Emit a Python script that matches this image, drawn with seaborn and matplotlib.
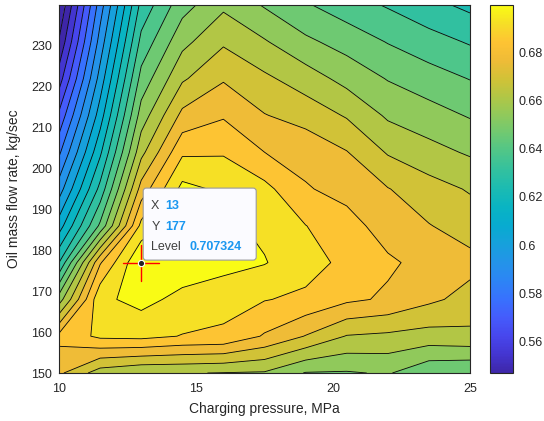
import numpy as np
import matplotlib
matplotlib.use("Agg")
import matplotlib.pyplot as plt
import seaborn as sns
from matplotlib.colors import LinearSegmentedColormap, Normalize
from matplotlib.patches import FancyBboxPatch
from matplotlib.transforms import IdentityTransform
import matplotlib.cm as cm

# ---------------- data ----------------
charging_pressure = [10, 11.5, 13, 14.5, 16, 17.5, 19, 20.5, 22, 23.5, 25]      # MPa
oil_flow = [150, 159, 168, 177, 186, 195, 204, 213, 222, 231, 240]             # kg/sec

row_150 = [0.6783, 0.6653, 0.6619, 0.6619, 0.6612, 0.6607, 0.6534, 0.6531, 0.6546, 0.6477, 0.6466]
row_159 = [0.6867, 0.6936, 0.6943, 0.6917, 0.6909, 0.6836, 0.6764, 0.6687, 0.6676, 0.6661, 0.6672]
row_168 = [0.6577, 0.6981, 0.7020, 0.6975, 0.6943, 0.6924, 0.6905, 0.6859, 0.6833, 0.6783, 0.6742]
row_177 = [0.6309, 0.6836, 0.707324, 0.7043, 0.7027, 0.7001, 0.6951, 0.6901, 0.6855, 0.6821, 0.6790]
row_186 = [0.6118, 0.6477, 0.6943, 0.7050, 0.7012, 0.6982, 0.6922, 0.6871, 0.6813, 0.6771, 0.6734]
row_195 = [0.5965, 0.6332, 0.6798, 0.7020, 0.6982, 0.6943, 0.6850, 0.6821, 0.6771, 0.6722, 0.6684]
row_204 = [0.5835, 0.6217, 0.6668, 0.6907, 0.6913, 0.6844, 0.6820, 0.6771, 0.6684, 0.6641, 0.6605]
row_213 = [0.5713, 0.6118, 0.6573, 0.6788, 0.6836, 0.6771, 0.6737, 0.6684, 0.6603, 0.6569, 0.6532]
row_222 = [0.5583, 0.6034, 0.6489, 0.6680, 0.6760, 0.6706, 0.6653, 0.6589, 0.6534, 0.6496, 0.6459]
row_231 = [0.5475, 0.5958, 0.6408, 0.6592, 0.6680, 0.6622, 0.6554, 0.6508, 0.6458, 0.6416, 0.6378]
row_240 = [0.5392, 0.5889, 0.6332, 0.6508, 0.6599, 0.6531, 0.6470, 0.6420, 0.6378, 0.6332, 0.6290]

n_levels = 21
x_ticks = [10, 15, 20, 25]
y_ticks = [150, 160, 170, 180, 190, 200, 210, 220, 230]
cbar_ticks = [0.56, 0.58, 0.60, 0.62, 0.64, 0.66, 0.68]
cbar_ticklabels = ["0.56", "0.58", "0.6", "0.62", "0.64", "0.66", "0.68"]
tip_x, tip_y = 13, 177

# ---------------- style ----------------
sns.set_theme(style="white")
plt.rcParams["font.family"] = ["Liberation Sans", "DejaVu Sans"]
TXT = "#262626"

parula_anchors = [
    (0.00, (0.2422, 0.1504, 0.6603)), (0.05, (0.2650, 0.2100, 0.8200)),
    (0.10, (0.2780, 0.2780, 0.9300)), (0.15, (0.2700, 0.3600, 0.9850)),
    (0.20, (0.2200, 0.4450, 0.9950)), (0.25, (0.1750, 0.5200, 0.9600)),
    (0.30, (0.1400, 0.5800, 0.9100)), (0.35, (0.0900, 0.6300, 0.8600)),
    (0.40, (0.0300, 0.6700, 0.8150)), (0.45, (0.0350, 0.7050, 0.7650)),
    (0.50, (0.1050, 0.7320, 0.7000)), (0.55, (0.1950, 0.7550, 0.6250)),
    (0.60, (0.3050, 0.7750, 0.5400)), (0.65, (0.4300, 0.7880, 0.4500)),
    (0.70, (0.5600, 0.7900, 0.3600)), (0.75, (0.6900, 0.7780, 0.2750)),
    (0.80, (0.8200, 0.7600, 0.2150)), (0.85, (0.9350, 0.7350, 0.2150)),
    (0.90, (0.9950, 0.7650, 0.2000)), (0.95, (0.9650, 0.8700, 0.1500)),
    (1.00, (0.9769, 0.9839, 0.0805)),
]
parula = LinearSegmentedColormap.from_list("parula", parula_anchors, N=256)

# ---------------- grid and levels (MATLAB contourf(X,Y,Z,21) style) ----------------
Z = np.array([row_150, row_159, row_168, row_177, row_186, row_195,
              row_204, row_213, row_222, row_231, row_240])
X, Y = np.meshgrid(charging_pressure, oil_flow)
zmin, zmax = Z.min(), Z.max()
levels = np.linspace(zmin, zmax, n_levels + 2)[1:-1]
norm = Normalize(levels[0], levels[-1])
band_edges = np.concatenate([[zmin - 1.0], levels, [zmax + 1.0]])
band_colors = [parula(0.0)] + [parula(norm(v)) for v in levels[:-1]] + [parula(1.0)]

W, H = 544, 421
fig = plt.figure(figsize=(W / 100, H / 100), dpi=100)
fig.patch.set_facecolor("white")
ax = fig.add_axes([59 / W, (H - 373) / H, 411 / W, 368 / H])

ax.contourf(X, Y, Z, levels=band_edges, colors=band_colors, antialiased=True)
ax.contour(X, Y, Z, levels=levels, colors="black", linewidths=0.6)

ax.set_xlim(min(charging_pressure), max(charging_pressure))
ax.set_ylim(min(oil_flow), max(oil_flow))
ax.set_xticks(x_ticks)
ax.set_yticks(y_ticks)
ax.tick_params(direction="in", length=4, width=0.6, top=True, right=True,
               labelsize=9, colors=TXT)
ax.tick_params(axis="x", pad=7.5)
ax.tick_params(axis="y", pad=5)
for s in ax.spines.values():
    s.set_color(TXT)
    s.set_linewidth(0.8)

ax.set_xlabel("Charging pressure, MPa", fontsize=10, color=TXT)
ax.set_ylabel("Oil mass flow rate, kg/sec", fontsize=10, color=TXT)
ax.xaxis.set_label_coords(0.5, (373 - 409) / 368)
ax.yaxis.set_label_coords((14 - 59) / 411, 0.5)
ax.xaxis.label.set_va("center")
ax.yaxis.label.set_va("center")

# ---------------- colorbar ----------------
cax = fig.add_axes([489.5 / W, (H - 373) / H, 23 / W, 368 / H])
sm = cm.ScalarMappable(norm=norm, cmap=parula)
cb = fig.colorbar(sm, cax=cax)
cb.set_ticks(cbar_ticks)
cb.set_ticklabels(cbar_ticklabels)
cax.tick_params(direction="in", length=3.5, width=0.6, labelsize=9, pad=4, colors=TXT)
cb.outline.set_edgecolor(TXT)
cb.outline.set_linewidth(0.8)

# ---------------- data tip ----------------
fig.canvas.draw()
mx, my = ax.transData.transform((tip_x, tip_y))
box = FancyBboxPatch((mx + 2, my + 2.5), 113, 72,
                     boxstyle="round,pad=0,rounding_size=3",
                     transform=IdentityTransform(), facecolor=(0.985, 0.985, 1.0),
                     edgecolor=(0.6, 0.6, 0.62), linewidth=0.8, zorder=10, clip_on=False)
ax.add_patch(box)

ax.plot([tip_x - 0.66, tip_x + 0.66], [tip_y, tip_y], color="#ff0000", lw=1.0, zorder=11)
ax.plot([tip_x, tip_x], [tip_y - 4.4, tip_y + 4.4], color="#ff0000", lw=1.0, zorder=11)
ax.plot([tip_x], [tip_y], marker="o", ms=4.5, mfc="#222222", mec="white", mew=0.8, zorder=12)

LBL = "#404040"
VAL = "#1a97f0"
Zpeak = Z[oil_flow.index(tip_y), charging_pressure.index(tip_x)]
rows = [("X", f"{tip_x}", 53.6, 24), ("Y", f"{tip_y}", 32.6, 24),
        ("Level", f"{Zpeak:.6f}", 12.6, 48)]
for name, val, dy, dxv in rows:
    ax.annotate(name, xy=(tip_x, tip_y), xytext=(10, dy), textcoords="offset pixels",
                fontsize=9, color=LBL, va="baseline", ha="left", zorder=13,
                annotation_clip=False)
    ax.annotate(val, xy=(tip_x, tip_y), xytext=(dxv, dy), textcoords="offset pixels",
                fontsize=9, color=VAL, fontweight="bold", va="baseline", ha="left",
                zorder=13, annotation_clip=False)

fig.savefig("out.png", dpi=100, facecolor="white")
